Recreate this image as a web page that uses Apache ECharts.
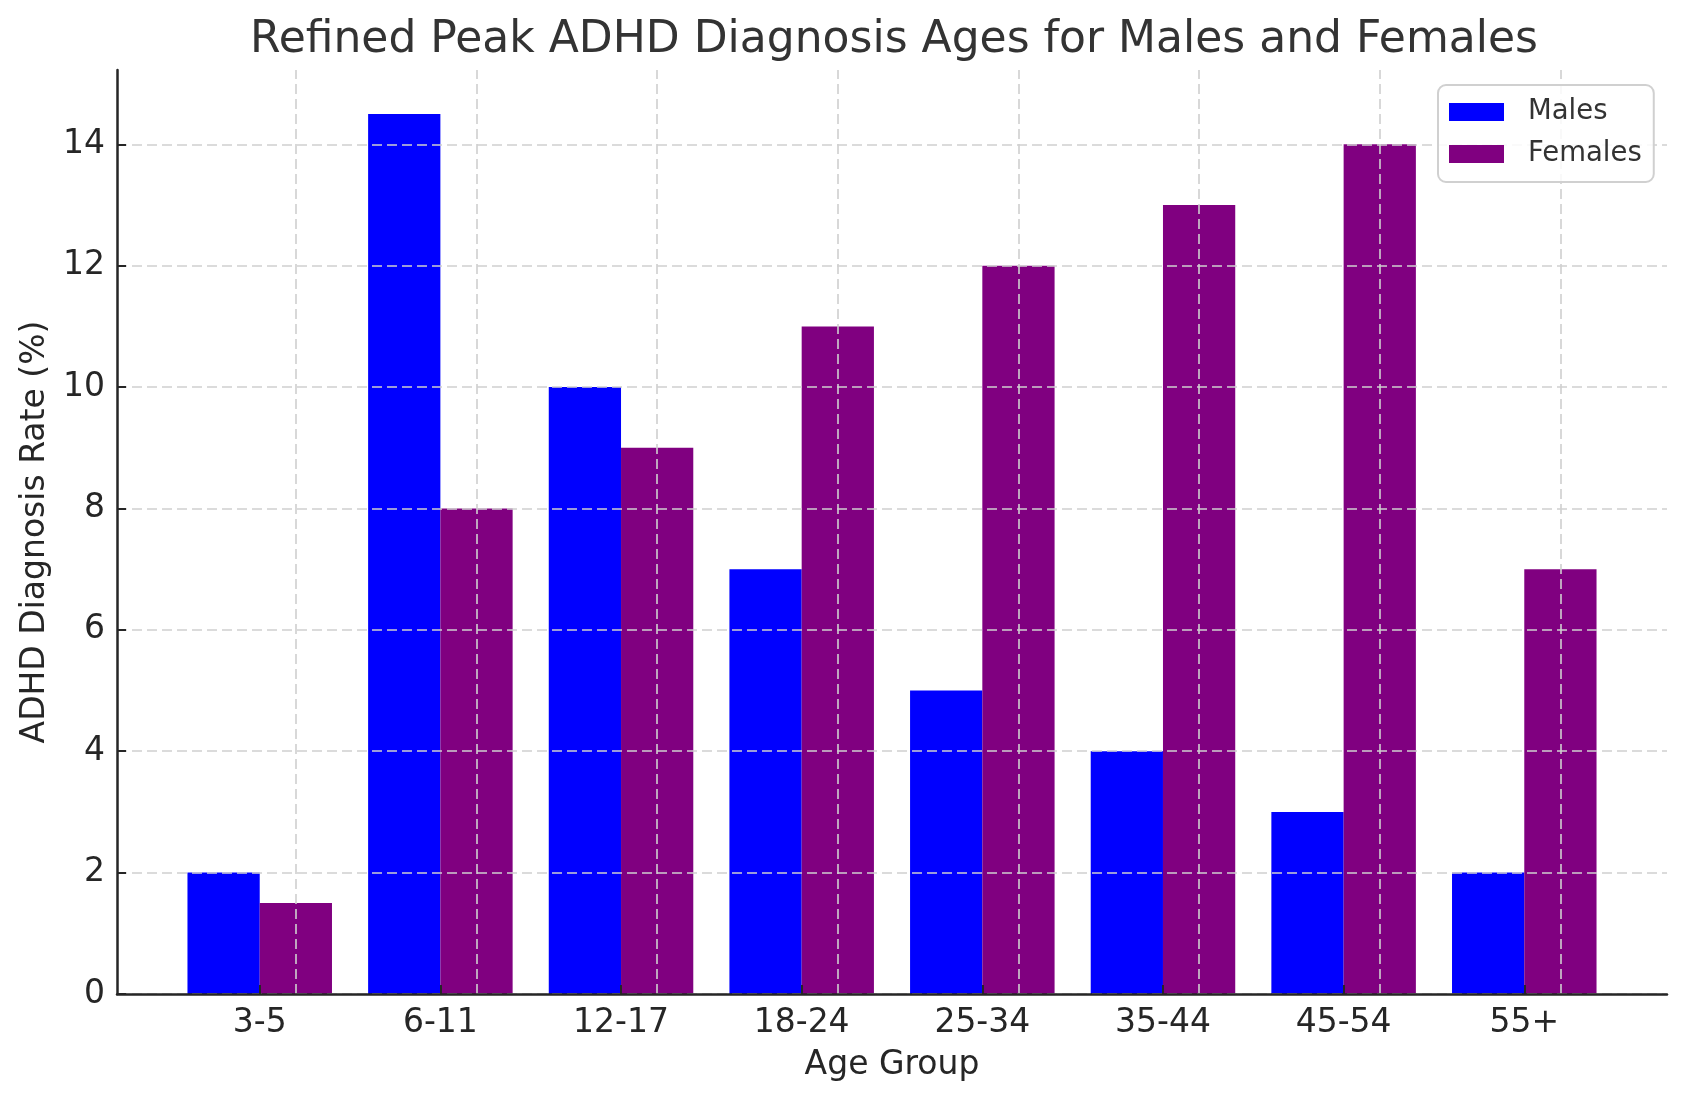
<!DOCTYPE html>
<html>
<head>
<meta charset="utf-8">
<script src="https://cdn.jsdelivr.net/npm/echarts@6/dist/echarts.min.js"></script>
<style>html,body{margin:0;padding:0;background:#fff;}#c{width:1686px;height:1101px;}</style>
</head>
<body>
<div id="c"></div>
<script>
const categories = ['3-5', '6-11', '12-17', '18-24', '25-34', '35-44', '45-54', '55+'];
const males = [2, 14.5, 10, 7, 5, 4, 3, 2];
const females = [1.5, 8, 9, 11, 12, 13, 14, 7];
const yTicks = [0, 2, 4, 6, 8, 10, 12, 14];
const yMax = 15.225;

const font = 'DejaVu Sans';
const dark = '#262626';
const gridColor = '#cfcfcf';

const chart = echarts.init(document.getElementById('c'), null, {renderer: 'canvas'});
chart.setOption({
  animation: false,
  backgroundColor: '#fff',
  textStyle: {fontFamily: font},
  title: {
    text: 'Refined Peak ADHD Diagnosis Ages for Males and Females',
    left: 894, top: 19, textAlign: 'center', padding: 0,
    textStyle: {fontFamily: font, fontSize: 44, fontWeight: 'normal', color: '#333'}
  },
  legend: {
    orient: 'vertical', left: 1438, top: 85,
    padding: [13, 12, 14, 11],
    itemWidth: 55, itemHeight: 18, itemGap: 14,
    icon: 'rect',
    borderColor: '#d0d0d0', borderWidth: 2, borderRadius: 8,
    backgroundColor: 'rgba(255,255,255,0.85)',
    z: 20,
    textStyle: {fontFamily: font, fontSize: 27.5, color: '#333', padding: [0, 0, 0, 19]},
    data: ['Males', 'Females']
  },
  grid: [
    {left: 117, top: 70, width: 1550, height: 924},
    {left: 169.4, top: 70, width: 1445.2, height: 924}
  ],
  xAxis: [
    {
      type: 'value', gridIndex: 0, min: 0, max: 1, z: 7,
      axisLine: {show: true, lineStyle: {color: dark, width: 2.5}},
      axisTick: {show: false}, axisLabel: {show: false}, splitLine: {show: false},
      name: 'Age Group', nameLocation: 'middle', nameGap: 55,
      nameTextStyle: {fontFamily: font, fontSize: 33, color: dark}
    },
    {
      type: 'category', gridIndex: 1, data: categories, z: 7,
      axisLine: {show: false},
      axisTick: {show: true, alignWithLabel: true, inside: true, length: 9, lineStyle: {color: dark, width: 2}},
      axisLabel: {fontFamily: font, fontSize: 33, color: dark, margin: 13},
      splitLine: {show: false}
    }
  ],
  yAxis: [
    {
      type: 'value', gridIndex: 0, min: 0, max: yMax, interval: 2, z: 5,
      axisLine: {show: true, lineStyle: {color: dark, width: 2.5}},
      axisTick: {show: true, inside: true, length: 9, lineStyle: {color: dark, width: 2}, customValues: yTicks},
      axisLabel: {fontFamily: font, fontSize: 33, color: dark, margin: 12, customValues: yTicks},
      splitLine: {show: true, lineStyle: {color: gridColor, width: 1.6, type: [10, 5]}},
      name: 'ADHD Diagnosis Rate (%)', nameLocation: 'middle', nameGap: 62,
      nameTextStyle: {fontFamily: font, fontSize: 33, color: dark}
    },
    {
      type: 'value', gridIndex: 1, min: 0, max: yMax, show: false
    }
  ],
  series: [
    {
      name: 'Males', type: 'bar', xAxisIndex: 1, yAxisIndex: 1,
      data: males, barGap: '0%', barCategoryGap: '20%',
      itemStyle: {color: '#0000ff'}
    },
    {
      name: 'Females', type: 'bar', xAxisIndex: 1, yAxisIndex: 1,
      data: females, barGap: '0%', barCategoryGap: '20%',
      itemStyle: {color: '#800080'},
      markLine: {
        silent: true, symbol: ['none', 'none'], z: 4,
        label: {show: false},
        lineStyle: {color: gridColor, width: 1.6, type: [10, 5]},
        data: categories.map(c => ({xAxis: c}))
      }
    }
  ]
});
</script>
</body>
</html>
